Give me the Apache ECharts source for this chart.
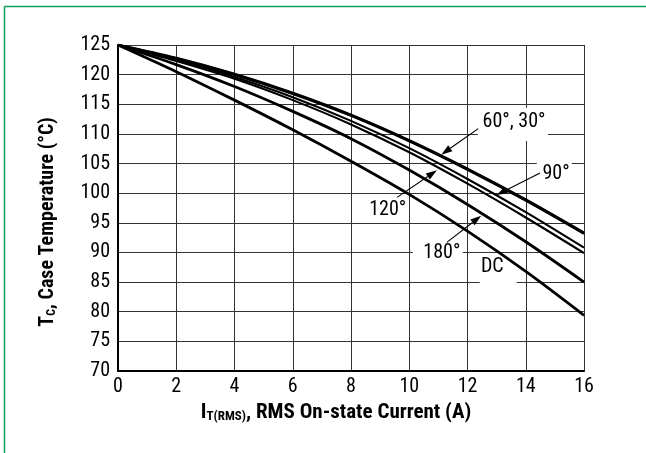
<!DOCTYPE html>
<html><head><meta charset="utf-8">
<script src="https://cdn.jsdelivr.net/npm/echarts@6/dist/echarts.min.js"></script>
<style>html,body{margin:0;padding:0;background:#fff}#c{width:646px;height:453px}</style>
</head><body><div id="c"></div>
<script>
// ---- data ----
const current = [0, 2, 4, 6, 8, 10, 12, 14, 16];          // I_T(RMS) (A)
const tc30  = [125, 122.8, 120.1, 116.9, 113.2, 108.9, 104.1, 98.9, 93.3];
const tc60  = [125, 122.7, 120.0, 116.8, 113.1, 108.8, 104.0, 98.8, 93.2];
const tc90  = [125, 122.5, 119.6, 116.2, 112.2, 107.6, 102.4, 96.8, 90.8];
const tc120 = [125, 122.3, 119.3, 115.7, 111.6, 106.9, 101.6, 95.9, 89.9];
const tc180 = [125, 121.7, 118.0, 113.8, 109.2, 103.9, 98.1, 91.8, 85.0];
const tcDC  = [125, 120.5, 115.7, 110.7, 105.4, 99.8, 93.6, 86.8, 79.4];
const seriesNames = ['30°', '60°', '90°', '120°', '180°', 'DC'];
const xMin = 0, xMax = 16, xStep = 2;
const yMin = 70, yMax = 125, yStep = 5;

// annotation labels (data coordinates)
const labelTexts = ['60°, 30°', '90°', '120°', '180°', 'DC'];
const labelAt    = [[13.60, 112.0], [15.04, 103.3], [9.26, 97.2], [11.12, 89.95], [12.85, 87.5]];
const labelBox   = [[12.36, 114.4, 14.76, 108.8], [14.38, 105.7, 15.58, 101.0], null,
                    [10.12, 91.55, 11.84, 88.34], [12.42, 89.2, 13.69, 84.0]];
const arrows     = [[[12.37, 110.9], [11.10, 106.5]],
                    [[14.49, 103.4], [13.00, 99.7]],
                    [[9.58, 99.3], [10.95, 103.85]],
                    [[11.29, 91.7], [12.47, 96.2]]];

const FONT = "'Liberation Sans Narrow','Roboto Condensed','DejaVu Sans Condensed','Arial Narrow',sans-serif";
const pair = arr => current.map((x, i) => [x, arr[i]]);
const allData = [tc30, tc60, tc90, tc120, tc180, tcDC];
const widths = [2.8, 2.8, 2.1, 2.1, 2.8, 2.8];

const chart = echarts.init(document.getElementById('c'), null, {renderer: 'canvas'});
const series = allData.map((d, i) => ({
  name: seriesNames[i], type: 'line', data: pair(d), showSymbol: false, smooth: 0.3,
  lineStyle: {color: '#000', width: widths[i]}, z: 3, silent: true, animation: false
}));

const richX = {
  m: {fontFamily: FONT, fontWeight: 'bold', fontSize: 21, color: '#000', lineHeight: 23, verticalAlign: 'bottom'},
  s: {fontFamily: FONT, fontWeight: 'bold', fontSize: 13, color: '#000', lineHeight: 8, verticalAlign: 'bottom'}
};
const richY = {
  m: {fontFamily: FONT, fontWeight: 'bold', fontSize: 20, color: '#000', lineHeight: 22, verticalAlign: 'bottom'},
  s: {fontFamily: FONT, fontWeight: 'bold', fontSize: 12, color: '#000', lineHeight: 8, verticalAlign: 'bottom'}
};

chart.setOption({
  animation: false,
  backgroundColor: '#fff',
  grid: {left: 118, right: 62, top: 45, bottom: 82, containLabel: false},
  xAxis: {
    type: 'value', min: xMin, max: xMax, interval: xStep,
    name: '{m|I}{s|T(RMS)}{m|, RMS On-state Current (A)}',
    nameLocation: 'middle', nameGap: 25,
    nameTextStyle: {rich: richX, padding: [0, 30, 0, 0]},
    axisLine: {show: true, onZero: false, lineStyle: {color: '#000', width: 2}},
    axisTick: {show: false},
    axisLabel: {fontFamily: FONT, fontSize: 20, color: '#000', margin: 6},
    splitLine: {show: true, lineStyle: {color: '#333', width: 1}}
  },
  yAxis: {
    type: 'value', min: yMin, max: yMax, interval: yStep,
    name: '{m|T}{s|C}{m|, Case Temperature (°C)}',
    nameLocation: 'middle', nameGap: 60,
    nameTextStyle: {rich: richY, padding: [0, 28, 0, 0]},
    axisLine: {show: true, onZero: false, lineStyle: {color: '#000', width: 2}},
    axisTick: {show: false},
    axisLabel: {fontFamily: FONT, fontSize: 20, color: '#000', margin: 8},
    splitLine: {show: true, lineStyle: {color: '#333', width: 1}}
  },
  series: series
});

// annotations & frame
const g = [];
g.push({type: 'line', shape: {x1: 4.5, y1: 6.5, x2: 646, y2: 6.5}, style: {stroke: '#0f9d58', lineWidth: 1.5}, z: 10});
g.push({type: 'line', shape: {x1: 4.5, y1: 6.5, x2: 4.5, y2: 453}, style: {stroke: '#0f9d58', lineWidth: 1.5}, z: 10});
labelBox.forEach(b => {
  if (!b) return;
  const p1 = chart.convertToPixel({gridIndex: 0}, [b[0], b[1]]);
  const p2 = chart.convertToPixel({gridIndex: 0}, [b[2], b[3]]);
  g.push({type: 'rect', shape: {x: p1[0], y: p1[1], width: p2[0] - p1[0], height: p2[1] - p1[1]},
          style: {fill: '#fff'}, z: 1, silent: true});
});
labelTexts.forEach((t, i) => {
  const p = chart.convertToPixel({gridIndex: 0}, labelAt[i]);
  g.push({type: 'text', x: p[0], y: p[1], z: 5, silent: true,
          style: {text: t, fontFamily: FONT, fontSize: 20, fill: '#000', align: 'center', verticalAlign: 'middle'}});
});
arrows.forEach(a => {
  const s = chart.convertToPixel({gridIndex: 0}, a[0]);
  const e = chart.convertToPixel({gridIndex: 0}, a[1]);
  const dx = e[0] - s[0], dy = e[1] - s[1], L = Math.hypot(dx, dy);
  const ux = dx / L, uy = dy / L, hl = 11, hw = 3.6;
  const bx = e[0] - ux * hl, by = e[1] - uy * hl;
  g.push({type: 'line', shape: {x1: s[0], y1: s[1], x2: bx, y2: by}, style: {stroke: '#000', lineWidth: 1.1}, z: 6, silent: true});
  g.push({type: 'polygon', shape: {points: [[e[0], e[1]], [bx - uy * hw, by + ux * hw], [bx + uy * hw, by - ux * hw]]},
          style: {fill: '#000'}, z: 6, silent: true});
});
chart.setOption({graphic: g});
</script>
</body></html>
